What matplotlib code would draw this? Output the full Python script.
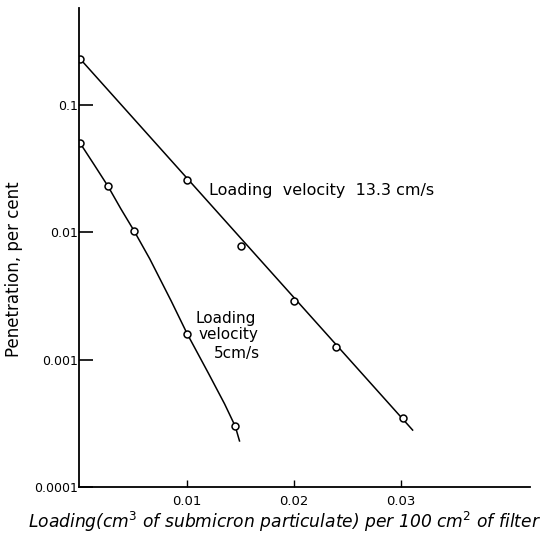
import matplotlib.pyplot as plt

# 13.3 cm/s series: measured points and the fitted straight line
fast_x = [0.0, 0.010, 0.0150, 0.020, 0.0239, 0.0302]
fast_y = [0.23, 0.026, 0.0078, 0.0029, 0.00125, 0.00035]
fast_line_x = [0.0, 0.0311]
fast_line_y = [0.23, 0.00028]

# 5 cm/s series: measured points and the hand-drawn curve
slow_x = [0.0, 0.0026, 0.0050, 0.0100, 0.0145]
slow_y = [0.05, 0.023, 0.0102, 0.0016, 0.0003]
slow_line_x = [0.0, 0.0013, 0.0026, 0.0038, 0.0050, 0.0065, 0.0085, 0.0100, 0.0120, 0.0135, 0.0145, 0.0149]
slow_line_y = [0.05, 0.034, 0.023, 0.0153, 0.0104, 0.0062, 0.0029, 0.0016, 0.00078, 0.00045, 0.0003, 0.00023]

x_ticks = [0.01, 0.02, 0.03]
x_tick_labels = ["0.01", "0.02", "0.03"]
y_ticks = [0.0001, 0.001, 0.01, 0.1]
y_tick_labels = ["0.0001", "0.001", "0.01", "0.1"]

fig = plt.figure(figsize=(5.41, 5.39), dpi=100)
ax = fig.add_axes([0.146, 0.0965, 0.834, 0.8885])

ax.plot(fast_line_x, fast_line_y, color="black", lw=1.1)
ax.plot(slow_line_x, slow_line_y, color="black", lw=1.1)
ax.plot(fast_x, fast_y, "o", mfc="white", mec="black", ms=5, mew=1.1)
ax.plot(slow_x, slow_y, "o", mfc="white", mec="black", ms=5, mew=1.1)

ax.set_yscale("log")
ax.set_xlim(-0.00012, 0.0421)
ax.set_ylim(0.0001, 0.578)

ax.set_xticks(x_ticks)
ax.set_xticklabels(x_tick_labels)
ax.set_yticks(y_ticks)
ax.set_yticklabels(y_tick_labels)
ax.minorticks_off()
ax.tick_params(axis="y", direction="in", length=10, width=1.2, labelsize=9, pad=1)
ax.tick_params(axis="x", direction="in", length=5, width=1.0, labelsize=9.5, pad=6)

for side in ["top", "right"]:
    ax.spines[side].set_visible(False)
for side in ["left", "bottom"]:
    ax.spines[side].set_linewidth(1.3)

ax.text(0.0120, 0.0215, "Loading  velocity  13.3 cm/s", fontsize=11.5, va="center", ha="left")
ax.text(0.01357, 0.0021, "Loading", fontsize=11, va="center", ha="center")
ax.text(0.0139, 0.00158, "velocity", fontsize=11, va="center", ha="center")
ax.text(0.0147, 0.00112, "5cm/s", fontsize=11, va="center", ha="center")

fig.text(0.025, 0.50, "Penetration, per cent", rotation=90, fontsize=12,
         va="center", ha="center")
fig.text(0.525, 0.032, "Loading(cm$^3$ of submicron particulate) per 100 cm$^2$ of filter",
         fontsize=12.3, style="italic", va="center", ha="center")

fig.savefig("out.png", dpi=100)
